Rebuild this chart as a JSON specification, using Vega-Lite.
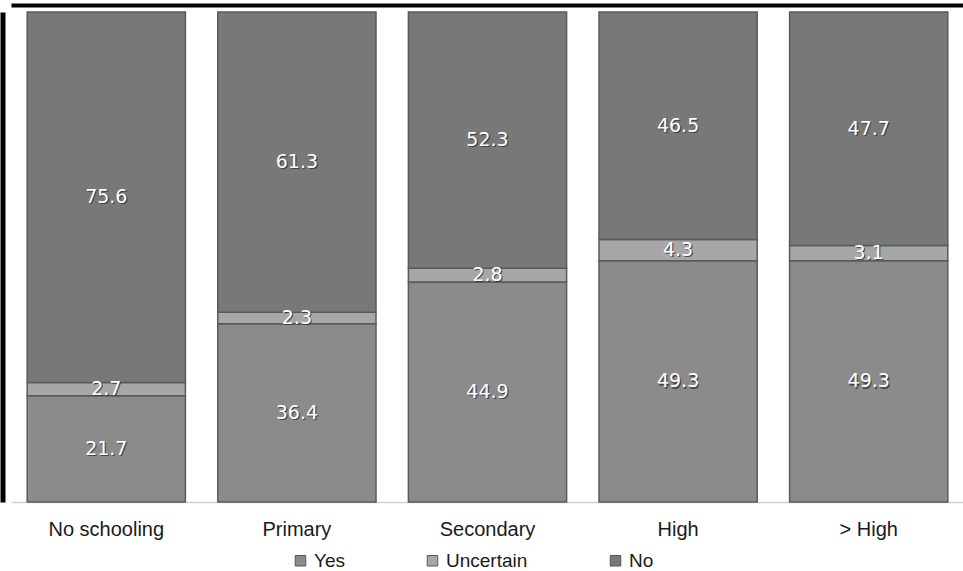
{
  "$schema": "https://vega.github.io/schema/vega-lite/v6.json",
  "width": 953,
  "height": 490,
  "autosize": {"type": "none"},
  "padding": {"left": 11, "top": 12, "right": 0, "bottom": 69},
  "background": "white",
  "config": {"view": {"stroke": null}},
  "data": {
    "values": [
      {"category": "No schooling", "series": "Yes", "value": 21.7},
      {"category": "No schooling", "series": "Uncertain", "value": 2.7},
      {"category": "No schooling", "series": "No", "value": 75.6},
      {"category": "Primary", "series": "Yes", "value": 36.4},
      {"category": "Primary", "series": "Uncertain", "value": 2.3},
      {"category": "Primary", "series": "No", "value": 61.3},
      {"category": "Secondary", "series": "Yes", "value": 44.9},
      {"category": "Secondary", "series": "Uncertain", "value": 2.8},
      {"category": "Secondary", "series": "No", "value": 52.3},
      {"category": "High", "series": "Yes", "value": 49.3},
      {"category": "High", "series": "Uncertain", "value": 4.3},
      {"category": "High", "series": "No", "value": 46.5},
      {"category": "> High", "series": "Yes", "value": 49.3},
      {"category": "> High", "series": "Uncertain", "value": 3.1},
      {"category": "> High", "series": "No", "value": 47.7}
    ]
  },
  "transform": [
    {"stack": "value", "groupby": ["category"], "sort": [{"field": "series", "order": "descending"}], "offset": "normalize", "as": ["y0", "y1"]},
    {"calculate": "(datum.y0 + datum.y1) / 2", "as": "ymid"}
  ],
  "layer": [
    {
      "mark": {"type": "bar", "stroke": "#5a5a5a", "strokeWidth": 1.5},
      "encoding": {
        "x": {
          "field": "category", "type": "nominal",
          "sort": ["No schooling", "Primary", "Secondary", "High", "> High"],
          "scale": {"paddingInner": 0.17, "paddingOuter": 0.085},
          "axis": {
            "orient": "bottom", "title": null, "ticks": false, "domainColor": "#d0d0d0", "domainWidth": 1.5,
            "labelFont": "Liberation Sans", "labelFontSize": 20, "labelColor": "#1a1a1a", "labelPadding": 17, "labelAngle": 0, "grid": false
          }
        },
        "y": {
          "field": "y0", "type": "quantitative",
          "scale": {"domain": [0, 1], "nice": false},
          "axis": {"orient": "left", "title": null, "domain": true, "labels": false, "ticks": false, "grid": false, "domainColor": "#000000", "domainWidth": 5, "offset": 8.5}
        },
        "y2": {"field": "y1"},
        "color": {
          "field": "series", "type": "nominal",
          "scale": {"domain": ["Yes", "Uncertain", "No"], "range": ["#8b8b8b", "#a7a7a7", "#787878"]},
          "legend": {
            "orient": "none", "legendX": 280, "legendY": 539, "direction": "horizontal", "title": null,
            "symbolType": "square", "symbolSize": 110, "symbolStrokeColor": "#555555", "symbolStrokeWidth": 1,
            "labelFont": "Liberation Sans", "labelFontSize": 19, "labelColor": "#1a1a1a", "columnPadding": 78
          }
        }
      }
    },
    {
      "mark": {"type": "text", "color": "#2a2a2a", "opacity": 0.7, "dx": 1.2, "dy": 1.2, "font": "DejaVu Sans", "fontSize": 19, "baseline": "middle"},
      "encoding": {
        "x": {
          "field": "category", "type": "nominal",
          "sort": ["No schooling", "Primary", "Secondary", "High", "> High"],
          "axis": {"orient": "top", "title": null, "labels": false, "ticks": false, "grid": false, "domainColor": "#000000", "domainWidth": 4, "offset": 7}
        },
        "y": {"field": "ymid", "type": "quantitative"},
        "text": {"field": "value", "type": "quantitative", "format": ".1f"}
      }
    },
    {
      "mark": {"type": "text", "color": "#ffffff", "font": "DejaVu Sans", "fontSize": 19, "baseline": "middle"},
      "encoding": {
        "x": {"field": "category", "type": "nominal", "sort": ["No schooling", "Primary", "Secondary", "High", "> High"], "axis": null},
        "y": {"field": "ymid", "type": "quantitative"},
        "text": {"field": "value", "type": "quantitative", "format": ".1f"}
      }
    }
  ],
  "resolve": {"axis": {"x": "independent"}}
}
